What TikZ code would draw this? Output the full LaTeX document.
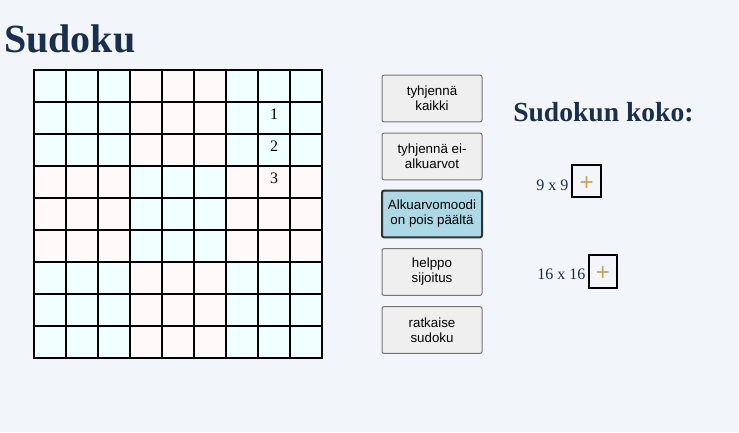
\documentclass[tikz,border=0pt]{standalone}
\usepackage{fontspec}
\setmainfont{Liberation Serif}
\setsansfont{Liberation Sans}
\definecolor{pagebg}{HTML}{F2F5F9}
\definecolor{navy}{HTML}{1A2F4D}
\definecolor{azurecell}{HTML}{F0FFFF}
\definecolor{snowcell}{HTML}{FFFAFA}
\definecolor{btnfill}{HTML}{EFEFEF}
\definecolor{btnline}{HTML}{767676}
\definecolor{btnon}{HTML}{ADD8E6}
\definecolor{plusgold}{HTML}{C8A064}
\tikzset{
  cell/.style={draw=black, line width=1.3pt, minimum size=24pt, inner sep=0pt},
  given/.style={inner sep=0pt, yshift=3pt, font=\fontsize{12}{14}\selectfont},
  btn/.style={draw=btnline, fill=btnfill, rounded corners=1.5pt, line width=0.75pt,
    minimum width=75pt, minimum height=35pt, inner sep=0pt, align=center,
    font=\sffamily\fontsize{10}{11.25}\selectfont},
  sizebox/.style={draw=black, line width=1.5pt, minimum width=21.5pt, minimum height=24.5pt, inner sep=0pt},
  plussign/.style={inner sep=0pt, yshift=-1.6pt, text=plusgold, font=\sffamily\fontsize{18}{18}\selectfont},
  sizelabel/.style={anchor=base west, inner sep=0pt, text=navy, font=\fontsize{12}{14}\selectfont}
}
\begin{document}
\begin{tikzpicture}[x=0.75pt,y=-0.75pt]
% page
\fill[pagebg] (0,0) rectangle (739,432);
\useasboundingbox (0,0) rectangle (739,432);
% title
\node[anchor=base west, inner sep=0pt, text=navy, font=\bfseries\fontsize{30}{30}\selectfont] (title) at (4,52) {Sudoku};
% grid
\foreach \r in {0,...,8}{
  \foreach \c in {0,...,8}{
    \pgfmathtruncatemacro{\blk}{mod(int(\r/3)+int(\c/3),2)}
    \ifnum\blk=0 \def\cellcol{azurecell}\else \def\cellcol{snowcell}\fi
    \node[cell, fill=\cellcol] (c-\r-\c) at ({50+32*\c},{86+32*\r}) {};
  }
}
% given numbers
\node[given] (g1) at (c-1-7) {1};
\node[given] (g2) at (c-2-7) {2};
\node[given] (g3) at (c-3-7) {3};
% buttons
\node[btn] (clearall) at (432,98.5) {tyhjennä\\kaikki};
\node[btn] (clearfree) at (432,156.5) {tyhjennä ei-\\alkuarvot};
\node[btn, fill=btnon, draw=black!80, line width=1.5pt] (givenmode) at (432,214) {Alkuarvomoodi\\on pois päältä};
\node[btn] (hint) at (432,272) {helppo\\sijoitus};
\node[btn] (solve) at (432,330) {ratkaise\\sudoku};
% size selection
\node[anchor=base west, inner sep=0pt, text=navy, font=\bfseries\fontsize{20.7}{22}\selectfont] (sizetitle) at (513,121) {Sudokun koko:};
\node[sizelabel] (nine) at (536,190) {9 x 9};
\node[sizebox] (nineplus) at (586.7,181) {};
\node[plussign] (nineplustxt) at (nineplus) {+};
\node[sizelabel] (sixteen) at (537,279) {16 x 16};
\node[sizebox] (sixteenplus) at (603,271.5) {};
\node[plussign] (sixteenplustxt) at (sixteenplus) {+};
\end{tikzpicture}
\end{document}
